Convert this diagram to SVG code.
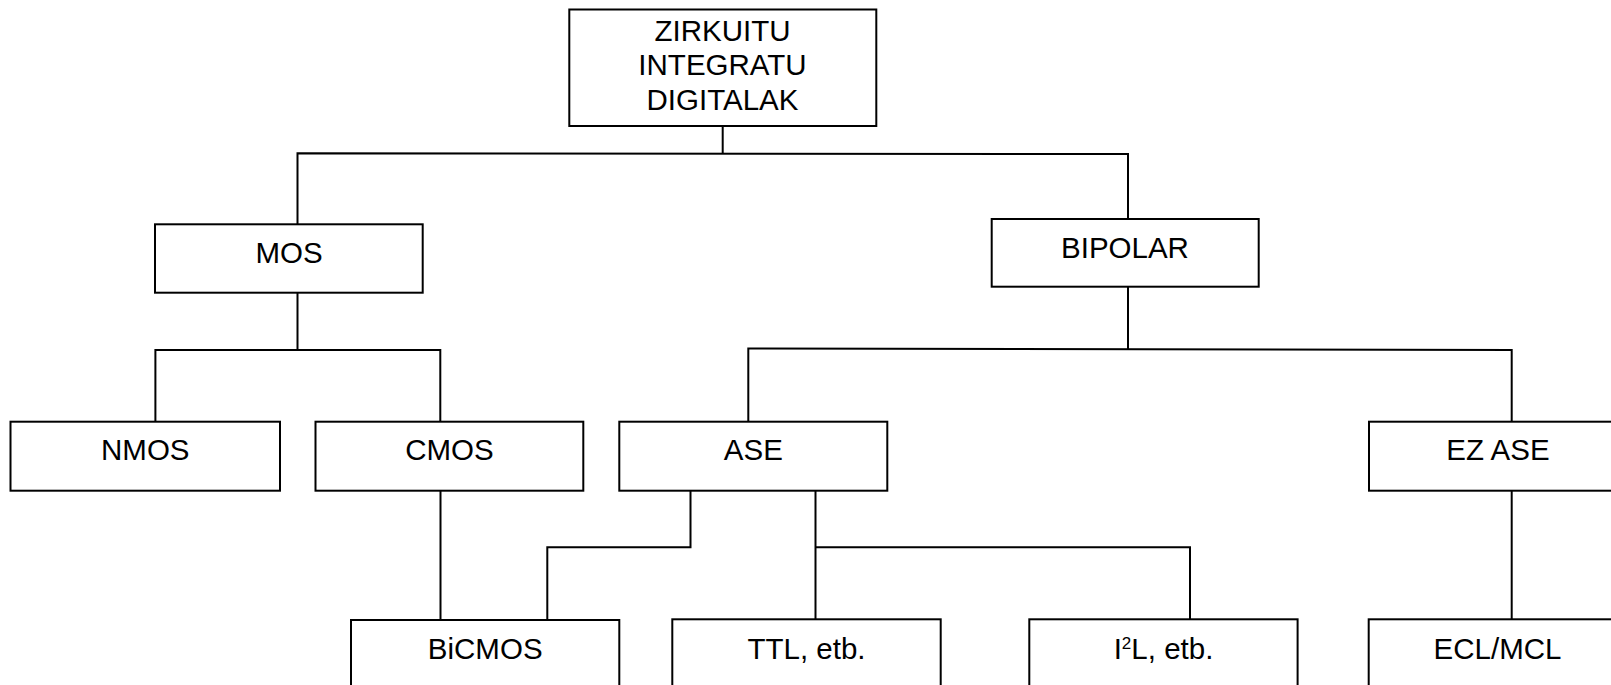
<svg xmlns="http://www.w3.org/2000/svg" width="1611" height="685" viewBox="0 0 1611 685">
<style>
  .box { fill: #ffffff; stroke: #000000; stroke-width: 2; }
  .lbl { font-family: "Liberation Sans", Arial, sans-serif; font-size: 29.5px; fill: #000000; text-anchor: middle; }
  .sup { font-size: 17px; }
  .conn { fill: none; stroke: #000000; stroke-width: 2; }
</style>
<rect x="0" y="0" width="1611" height="685" fill="#ffffff"/>
<g id="connectors">
  <path class="conn" d="M722.7,126 V153.5"/>
  <path class="conn" d="M297.5,224.3 V153.3 L1128,154 V219"/>
  <path class="conn" d="M297.5,292.7 V350"/>
  <path class="conn" d="M155.4,421.7 V350 H440.3 V421.7"/>
  <path class="conn" d="M1128,286.7 V349"/>
  <path class="conn" d="M748.3,421.7 V348.5 L1511.7,350 V421.7"/>
  <path class="conn" d="M440.5,490.7 V620"/>
  <path class="conn" d="M690.5,490.7 V547.3 H547.3 V620"/>
  <path class="conn" d="M815.5,490.7 V619.3"/>
  <path class="conn" d="M815.5,547.3 H1190 V619.3"/>
  <path class="conn" d="M1511.7,490.7 V619.3"/>
</g>
<g id="node-zirkuitu">
  <rect class="box" x="569.3" y="9.5" width="307" height="116.5"/>
  <text class="lbl" x="722.5" y="40.5">ZIRKUITU</text>
  <text class="lbl" x="722.5" y="75">INTEGRATU</text>
  <text class="lbl" x="722.5" y="109.5">DIGITALAK</text>
</g>
<g id="node-mos">
  <rect class="box" x="155" y="224.3" width="267.7" height="68.4"/>
  <text class="lbl" x="289" y="263">MOS</text>
</g>
<g id="node-bipolar">
  <rect class="box" x="991.7" y="219" width="267" height="67.7"/>
  <text class="lbl" x="1125" y="258.3">BIPOLAR</text>
</g>
<g id="node-nmos">
  <rect class="box" x="10.5" y="421.7" width="269.5" height="69"/>
  <text class="lbl" x="145.3" y="460">NMOS</text>
</g>
<g id="node-cmos">
  <rect class="box" x="315.5" y="421.7" width="267.8" height="69"/>
  <text class="lbl" x="449.4" y="460">CMOS</text>
</g>
<g id="node-ase">
  <rect class="box" x="619.3" y="421.7" width="268" height="69"/>
  <text class="lbl" x="753.3" y="460">ASE</text>
</g>
<g id="node-ezase">
  <rect class="box" x="1369" y="421.7" width="258" height="69"/>
  <text class="lbl" x="1498" y="460">EZ ASE</text>
</g>
<g id="node-bicmos">
  <rect class="box" x="351" y="620" width="268.3" height="80"/>
  <text class="lbl" x="485.2" y="658.8">BiCMOS</text>
</g>
<g id="node-ttl">
  <rect class="box" x="672.3" y="619.3" width="268.4" height="80"/>
  <text class="lbl" x="806.5" y="658.5">TTL, etb.</text>
</g>
<g id="node-i2l">
  <rect class="box" x="1029.3" y="619.3" width="268.3" height="80"/>
  <text class="lbl" x="1163.5" y="658.5">I<tspan class="sup" dy="-9.5">2</tspan><tspan dy="9.5">L, etb.</tspan></text>
</g>
<g id="node-eclmcl">
  <rect class="box" x="1368.7" y="619.3" width="258" height="80"/>
  <text class="lbl" x="1497.5" y="658.5">ECL/MCL</text>
</g>
</svg>
